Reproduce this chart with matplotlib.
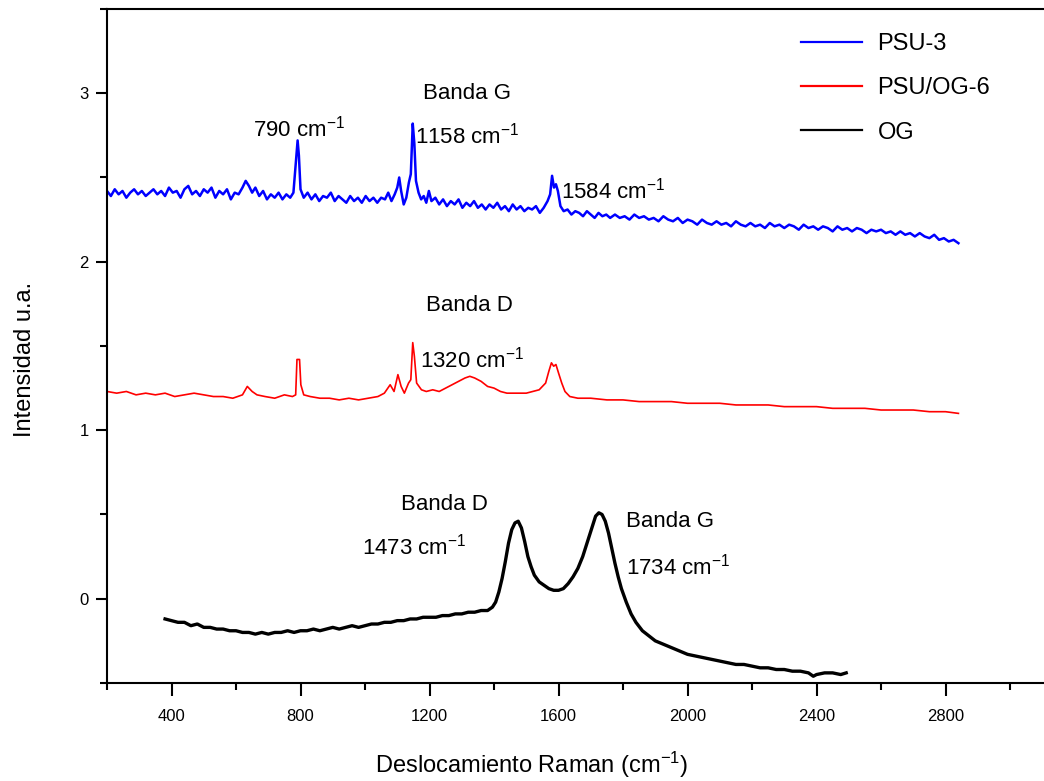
import matplotlib
matplotlib.use("Agg")
import matplotlib.pyplot as plt
from matplotlib.ticker import MultipleLocator

plt.rcParams['font.family'] = ['Liberation Sans', 'DejaVu Sans']
plt.rcParams['mathtext.default'] = 'regular'

# ---------------- data ----------------
psu3_x = [200, 212, 224, 236, 248, 260, 272, 284, 296, 308,
          320, 332, 344, 356, 368, 380, 392, 404, 416, 428,
          440, 452, 464, 476, 488, 500, 512, 524, 536, 548,
          560, 572, 584, 596, 608, 620, 630, 640, 650, 660,
          672, 684, 696, 708, 720, 732, 744, 756, 768, 778,
          787, 791, 795, 800, 810, 822, 834, 846, 858, 870,
          882, 894, 906, 918, 930, 942, 954, 966, 978, 990,
          1002, 1014, 1026, 1038, 1050, 1062, 1072, 1082, 1092, 1100,
          1106, 1112, 1120, 1128, 1136, 1142, 1148, 1153, 1158, 1166,
          1174, 1182, 1190, 1198, 1206, 1218, 1230, 1242, 1254, 1266,
          1278, 1290, 1302, 1314, 1326, 1338, 1350, 1362, 1374, 1386,
          1398, 1410, 1422, 1434, 1446, 1458, 1470, 1482, 1494, 1506,
          1518, 1530, 1542, 1554, 1566, 1574, 1580, 1586, 1592, 1598,
          1606, 1616, 1628, 1640, 1652, 1664, 1676, 1688, 1700, 1712,
          1724, 1736, 1748, 1760, 1775, 1790, 1805, 1820, 1835, 1850,
          1865, 1880, 1895, 1910, 1925, 1940, 1955, 1970, 1985, 2000,
          2015, 2030, 2045, 2060, 2075, 2090, 2105, 2120, 2135, 2150,
          2165, 2180, 2195, 2210, 2225, 2240, 2255, 2270, 2285, 2300,
          2315, 2330, 2345, 2360, 2375, 2390, 2405, 2420, 2435, 2450,
          2465, 2480, 2495, 2510, 2525, 2540, 2555, 2570, 2585, 2600,
          2615, 2630, 2645, 2660, 2675, 2690, 2705, 2720, 2735, 2750,
          2765, 2780, 2795, 2810, 2825, 2840]
psu3_y = [2.42, 2.39, 2.43, 2.40, 2.42, 2.38, 2.41, 2.43, 2.40, 2.42,
          2.39, 2.41, 2.43, 2.40, 2.42, 2.39, 2.44, 2.41, 2.42, 2.38,
          2.43, 2.45, 2.40, 2.42, 2.39, 2.43, 2.41, 2.44, 2.38, 2.42,
          2.40, 2.43, 2.37, 2.41, 2.40, 2.44, 2.48, 2.45, 2.41, 2.44,
          2.39, 2.42, 2.37, 2.40, 2.38, 2.41, 2.37, 2.40, 2.38, 2.41,
          2.62, 2.72, 2.63, 2.43, 2.38, 2.41, 2.37, 2.40, 2.36, 2.39,
          2.38, 2.41, 2.36, 2.39, 2.37, 2.35, 2.39, 2.36, 2.38, 2.35,
          2.39, 2.36, 2.38, 2.35, 2.38, 2.37, 2.41, 2.36, 2.40, 2.44,
          2.50, 2.42, 2.34, 2.38, 2.47, 2.52, 2.82, 2.70, 2.48, 2.41,
          2.37, 2.39, 2.35, 2.42, 2.36, 2.38, 2.34, 2.37, 2.33, 2.36,
          2.34, 2.37, 2.32, 2.35, 2.33, 2.36, 2.32, 2.34, 2.31, 2.34,
          2.32, 2.35, 2.31, 2.33, 2.30, 2.34, 2.31, 2.33, 2.30, 2.32,
          2.31, 2.33, 2.29, 2.32, 2.36, 2.40, 2.51, 2.44, 2.46, 2.42,
          2.33, 2.30, 2.31, 2.28, 2.30, 2.29, 2.27, 2.30, 2.28, 2.26,
          2.29, 2.27, 2.28, 2.26, 2.28, 2.26, 2.27, 2.25, 2.28, 2.26,
          2.27, 2.25, 2.26, 2.24, 2.27, 2.25, 2.24, 2.26, 2.23, 2.25,
          2.24, 2.22, 2.25, 2.23, 2.22, 2.24, 2.22, 2.23, 2.21, 2.24,
          2.22, 2.21, 2.23, 2.21, 2.22, 2.20, 2.23, 2.21, 2.22, 2.20,
          2.22, 2.21, 2.19, 2.22, 2.20, 2.21, 2.19, 2.21, 2.20, 2.18,
          2.21, 2.19, 2.20, 2.18, 2.20, 2.19, 2.17, 2.19, 2.18, 2.19,
          2.17, 2.18, 2.16, 2.18, 2.16, 2.17, 2.15, 2.17, 2.15, 2.14,
          2.16, 2.13, 2.14, 2.12, 2.13, 2.11]

psuog6_x = [200, 230, 260, 290, 320, 350, 380, 410, 440, 470, 500, 530, 560, 590, 620, 635, 650, 665, 690, 720,
            750, 775, 785, 789, 797, 801, 810, 830, 860, 890, 920, 950, 980, 1010, 1040, 1060, 1078, 1090, 1102,
            1112, 1122, 1135, 1142, 1148, 1153, 1160, 1175, 1190, 1210, 1230, 1250, 1270, 1290, 1310, 1325, 1340,
            1360, 1380, 1400, 1420, 1440, 1460, 1480, 1500, 1520, 1540, 1560, 1570, 1578, 1585, 1592, 1600, 1610,
            1620, 1635, 1660, 1700, 1750, 1800, 1850, 1900, 1950, 2000, 2050, 2100, 2150, 2200, 2250, 2300, 2350,
            2400, 2450, 2500, 2550, 2600, 2650, 2700, 2750, 2800, 2840]
psuog6_y = [1.23, 1.22, 1.23, 1.21, 1.22, 1.21, 1.22, 1.20, 1.21, 1.22, 1.21, 1.20, 1.20, 1.19, 1.21, 1.26, 1.23, 1.21, 1.20, 1.19,
            1.21, 1.20, 1.21, 1.42, 1.42, 1.27, 1.21, 1.20, 1.19, 1.19, 1.18, 1.19, 1.18, 1.19, 1.20, 1.22, 1.27, 1.23, 1.33,
            1.26, 1.22, 1.28, 1.30, 1.52, 1.44, 1.28, 1.24, 1.23, 1.24, 1.23, 1.25, 1.27, 1.29, 1.31, 1.32, 1.31,
            1.29, 1.26, 1.25, 1.23, 1.22, 1.22, 1.22, 1.22, 1.23, 1.24, 1.28, 1.35, 1.40, 1.38, 1.39, 1.34, 1.28,
            1.23, 1.20, 1.19, 1.19, 1.18, 1.18, 1.17, 1.17, 1.17, 1.16, 1.16, 1.16, 1.15, 1.15, 1.15, 1.14, 1.14,
            1.14, 1.13, 1.13, 1.13, 1.12, 1.12, 1.12, 1.11, 1.11, 1.10]

og_x = [380, 400, 420, 440, 460, 480, 500, 520, 540, 560, 580, 600, 620, 640, 660, 680, 700, 720, 740, 760,
        780, 800, 820, 840, 860, 880, 900, 920, 940, 960, 980, 1000, 1020, 1040, 1060, 1080, 1100, 1120, 1140,
        1160, 1180, 1200, 1220, 1240, 1260, 1280, 1300, 1320, 1340, 1360, 1380, 1395, 1405, 1415, 1425, 1435,
        1445, 1455, 1465, 1475, 1485, 1495, 1505, 1515, 1525, 1540, 1555, 1570, 1585, 1600, 1615, 1630, 1645,
        1660, 1675, 1690, 1705, 1715, 1725, 1735, 1745, 1755, 1765, 1775, 1785, 1795, 1810, 1825, 1840, 1860,
        1880, 1900, 1925, 1950, 1975, 2000, 2025, 2050, 2075, 2100, 2125, 2150, 2175, 2200, 2225, 2250, 2275,
        2300, 2325, 2350, 2375, 2390, 2400, 2425, 2450, 2475, 2492]
og_y = [-0.12, -0.13, -0.14, -0.14, -0.16, -0.15, -0.17, -0.17, -0.18, -0.18, -0.19, -0.19, -0.20, -0.20, -0.21, -0.20, -0.21, -0.20, -0.20, -0.19,
        -0.20, -0.19, -0.19, -0.18, -0.19, -0.18, -0.17, -0.18, -0.17, -0.16, -0.17, -0.16, -0.15, -0.15, -0.14, -0.14, -0.13, -0.13, -0.12,
        -0.12, -0.11, -0.11, -0.11, -0.10, -0.10, -0.09, -0.09, -0.08, -0.08, -0.07, -0.07, -0.05, -0.02, 0.04, 0.12, 0.22,
        0.33, 0.41, 0.45, 0.46, 0.42, 0.34, 0.25, 0.19, 0.14, 0.10, 0.08, 0.06, 0.05, 0.05, 0.06, 0.09, 0.13,
        0.18, 0.25, 0.34, 0.43, 0.49, 0.51, 0.50, 0.46, 0.39, 0.30, 0.21, 0.13, 0.06, -0.02, -0.09, -0.14, -0.19,
        -0.22, -0.25, -0.27, -0.29, -0.31, -0.33, -0.34, -0.35, -0.36, -0.37, -0.38, -0.39, -0.39, -0.40, -0.41, -0.41, -0.42,
        -0.42, -0.43, -0.43, -0.44, -0.46, -0.45, -0.44, -0.44, -0.45, -0.44]

series_labels = ['PSU-3', 'PSU/OG-6', 'OG']

# ---------------- figure ----------------
fig = plt.figure(figsize=(10.44, 7.81), dpi=100)
ax = fig.add_axes([0.1025, 0.1255, 0.9113, 0.863])

ax.plot(psu3_x, psu3_y, color='#0000ff', lw=1.8, label=series_labels[0])
ax.plot(psuog6_x, psuog6_y, color='#ff0000', lw=1.2, label=series_labels[1])
ax.plot(og_x, og_y, color='black', lw=2.4, label=series_labels[2])

ax.set_xlim(200, 3150)
ax.set_ylim(-0.5, 3.5)
ax.xaxis.set_major_locator(MultipleLocator(400))
ax.xaxis.set_minor_locator(MultipleLocator(200))
ax.yaxis.set_major_locator(MultipleLocator(1))
ax.yaxis.set_minor_locator(MultipleLocator(0.5))

for s in ['left', 'bottom', 'top']:
    ax.spines[s].set_linewidth(1.5)
ax.spines['right'].set_visible(False)

ax.tick_params(axis='x', which='major', direction='out', length=9, width=1.5, pad=10, labelsize=12)
ax.tick_params(axis='x', which='minor', direction='out', length=5, width=1.5)
ax.tick_params(axis='y', which='major', direction='out', length=8, width=1.5, pad=5, labelsize=12)
ax.tick_params(axis='y', which='minor', direction='out', length=5, width=1.5)

fig.text(0.5095, 0.02, 'Deslocamiento Raman (cm$^{-1}$)', ha='center', va='center', fontsize=17)
fig.text(0.024, 0.54, 'Intensidad u.a.', ha='center', va='center', rotation=90, fontsize=17)

leg = ax.legend(loc='upper left', bbox_to_anchor=(0.767, 0.958), bbox_transform=fig.transFigure,
                frameon=False, fontsize=17, handlelength=2.6, handletextpad=0.65,
                labelspacing=0.95, borderpad=0, borderaxespad=0)
for h in leg.get_lines():
    h.set_linewidth(1.6)

fs = 16
ax.text(1315, 3.0, 'Banda G', ha='center', va='center', fontsize=fs)
ax.text(652, 2.79, '790 cm$^{-1}$', ha='left', va='center', fontsize=fs)
ax.text(1154, 2.75, '1158 cm$^{-1}$', ha='left', va='center', fontsize=fs)
ax.text(1609, 2.42, '1584 cm$^{-1}$', ha='left', va='center', fontsize=fs)
ax.text(1324, 1.74, 'Banda D', ha='center', va='center', fontsize=fs)
ax.text(1169, 1.42, '1320 cm$^{-1}$', ha='left', va='center', fontsize=fs)
ax.text(1247, 0.56, 'Banda D', ha='center', va='center', fontsize=fs)
ax.text(990, 0.31, '1473 cm$^{-1}$', ha='left', va='center', fontsize=fs)
ax.text(1810, 0.46, 'Banda G', ha='left', va='center', fontsize=fs)
ax.text(1810, 0.19, '1734 cm$^{-1}$', ha='left', va='center', fontsize=fs)

fig.savefig('out.png', dpi=100)
